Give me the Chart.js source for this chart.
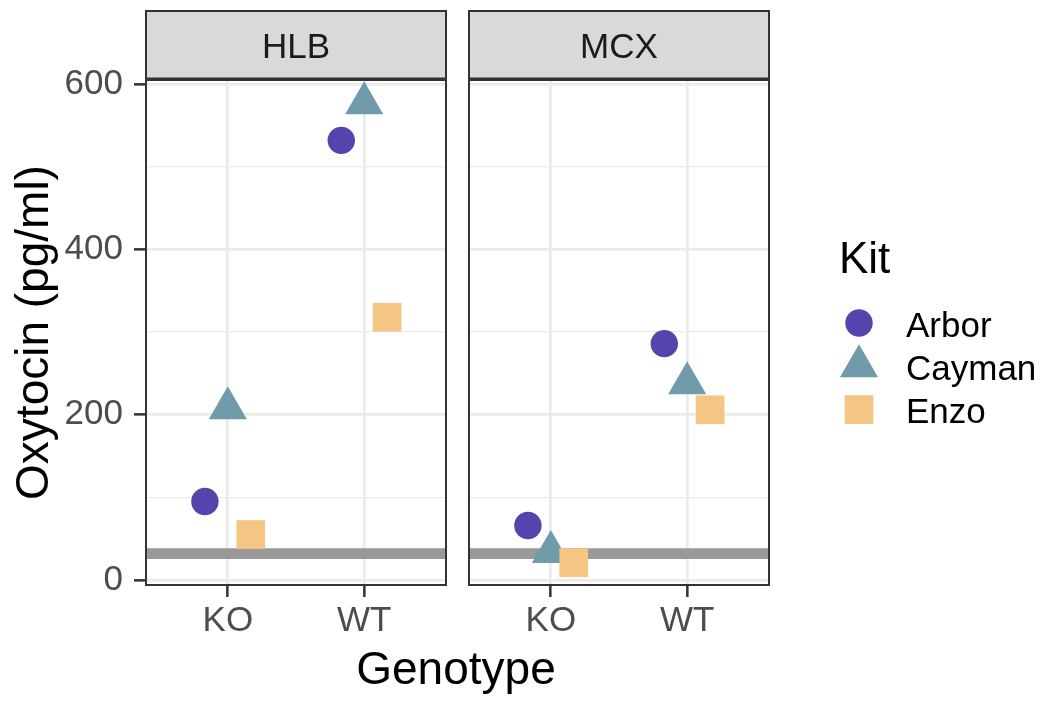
<!DOCTYPE html>
<html>
<head>
<meta charset="utf-8">
<script src="https://cdn.jsdelivr.net/npm/chart.js@4.4.1/dist/chart.umd.min.js"></script>
<style>
  body { margin: 0; background: #fff; }
  #wrap { position: relative; width: 1050px; height: 709px; overflow: hidden; background: #fff; }
  canvas { position: absolute; top: 0; }
  #hlb { left: 0; }
  #mcx { left: 446px; }
  #xtitle {
    position: absolute; left: 256px; width: 400px; top: 645px; height: 46px;
    text-align: center; font: 46px 'Liberation Sans', Arial, sans-serif; line-height: 46px; color: #000;
  }
</style>
</head>
<body>
<div id="wrap">
  <canvas id="hlb" width="460" height="709"></canvas>
  <canvas id="mcx" width="604" height="709"></canvas>
  <div id="xtitle">Genotype</div>
</div>
<script>
// données du graphique
const genotypes = ['KO', 'WT'];
const kits = ['Arbor', 'Cayman', 'Enzo'];

const hlbArbor = [95, 532];
const hlbCayman = [208, 577];
const hlbEnzo = [55, 318];

const mcxArbor = [66, 286];
const mcxCayman = [34, 238];
const mcxEnzo = [21, 206];

const cutoff = 32;
const yGrid = [0, 100, 200, 300, 400, 500, 600];
const yLabels = [0, 200, 400, 600];

// styles
const FONT = "'Liberation Sans', Arial, sans-serif";
const kitColors = ['#5444AE', '#6F9BAA', '#F4C583'];
const kitShapes = ['circle', 'triangle', 'rect'];
const kitRadius = [13.7, 22, 20.3];
const kitOrder = [3, 2, 1];
const dodge = 0.168;

Chart.defaults.font.family = FONT;

function fallbackPoint(ctx, style, r, x, y) {
  ctx.beginPath();
  if (style === 'circle') {
    ctx.arc(x, y, r, 0, Math.PI * 2);
  } else if (style === 'triangle') {
    ctx.moveTo(x, y - r);
    ctx.lineTo(x + r * Math.sin(2 * Math.PI / 3), y + r / 2);
    ctx.lineTo(x - r * Math.sin(2 * Math.PI / 3), y + r / 2);
    ctx.closePath();
  } else {
    const s = Math.SQRT1_2 * r;
    ctx.rect(x - s, y - s, 2 * s, 2 * s);
  }
  ctx.fill();
}

// bande grise + cadre + légende
const panelDecor = {
  id: 'panelDecor',
  afterDraw(chart, args, opts) {
    const ctx = chart.ctx;
    const a = chart.chartArea;
    const w = a.right - a.left;
    ctx.save();
    ctx.strokeStyle = '#333333';
    ctx.lineWidth = 2;
    ctx.strokeRect(a.left, a.top, w, a.bottom - a.top);

    ctx.fillStyle = '#D9D9D9';
    ctx.fillRect(a.left, 10, w, a.top - 10);
    ctx.strokeRect(a.left, 11, w, a.top - 11);
    ctx.fillStyle = '#333333';
    ctx.fillRect(a.left - 1, a.top - 2.5, w + 2, 3.5);
    ctx.fillStyle = '#1A1A1A';
    ctx.font = '35px ' + FONT;
    ctx.textAlign = 'center';
    ctx.textBaseline = 'alphabetic';
    ctx.fillText(opts.label, (a.left + a.right) / 2, 58);

    if (opts.legend) {
      const ox = opts.offsetX;
      ctx.fillStyle = '#000';
      ctx.textAlign = 'left';
      ctx.font = '44px ' + FONT;
      ctx.fillText('Kit', 839 - ox, 273);
      ctx.font = '35px ' + FONT;
      const rows = [323, 366.3, 409.6];
      const sets = chart.data.datasets.filter(d => kits.includes(d.label));
      kits.forEach((k, i) => {
        const ds = sets.find(d => d.label === k);
        ctx.fillStyle = ds.backgroundColor;
        if (Chart.helpers && Chart.helpers.drawPoint) {
          Chart.helpers.drawPoint(ctx, { pointStyle: ds.pointStyle, radius: ds.pointRadius, rotation: 0, borderWidth: 0 }, 859 - ox, rows[i]);
        } else {
          fallbackPoint(ctx, ds.pointStyle, ds.pointRadius, 859 - ox, rows[i]);
        }
        ctx.fillStyle = '#000';
        ctx.fillText(k, 906 - ox, rows[i] + 13.5);
      });
    }
    ctx.restore();
  }
};

function makePanel(id, label, series, first) {
  const datasets = kits.map((k, i) => ({
    label: k,
    data: series[i].map((v, g) => ({ x: g + 1 + (i - 1) * dodge, y: v })),
    pointStyle: kitShapes[i],
    pointRadius: kitRadius[i],
    pointHoverRadius: kitRadius[i],
    backgroundColor: kitColors[i],
    borderColor: kitColors[i],
    pointBorderWidth: 0,
    order: kitOrder[i],
    clip: false
  }));
  datasets.push({
    type: 'line',
    label: 'cutoff',
    data: [{ x: 0.4, y: cutoff }, { x: 2.6, y: cutoff }],
    borderColor: '#999999',
    borderWidth: 10.7,
    pointRadius: 0,
    order: 10
  });

  return new Chart(document.getElementById(id), {
    type: 'scatter',
    data: { datasets: datasets },
    plugins: [panelDecor],
    options: {
      responsive: false,
      animation: false,
      layout: {
        autoPadding: false,
        padding: { top: 80, right: first ? 14 : 281, left: 0, bottom: 0 }
      },
      plugins: {
        legend: { display: false },
        tooltip: { enabled: false },
        panelDecor: { label: label, legend: !first, offsetX: 446 }
      },
      scales: {
        x: {
          type: 'linear', min: 0.4, max: 2.6,
          afterBuildTicks: s => { s.ticks = genotypes.map((g, i) => ({ value: i + 1 })); },
          afterFit: s => { s.height = 124; },
          ticks: {
            callback: v => genotypes[Math.round(v) - 1],
            color: '#4D4D4D', font: { size: 35 }, padding: 3, maxRotation: 0, autoSkip: false
          },
          grid: { color: '#EBEBEB', lineWidth: 2.7, tickColor: '#333333', tickWidth: 2.5, tickLength: 12 },
          border: { display: false }
        },
        y: {
          type: 'linear', min: -6, max: 605,
          afterBuildTicks: s => { s.ticks = yGrid.map(v => ({ value: v })); },
          afterFit: s => { s.width = first ? 146 : 23; },
          ticks: {
            display: first,
            callback: v => yLabels.includes(v) ? String(v) : '',
            color: '#4D4D4D', font: { size: 35 }, padding: 11, autoSkip: false
          },
          grid: {
            color: '#EBEBEB',
            lineWidth: c => yLabels.includes(c.tick.value) ? 2.7 : 1.3,
            drawTicks: first,
            tickLength: 12,
            tickWidth: 2.5,
            tickColor: c => yLabels.includes(c.tick.value) ? '#333333' : 'rgba(0,0,0,0)'
          },
          border: { display: false },
          title: {
            display: first,
            text: 'Oxytocin (pg/ml)',
            color: '#000',
            font: { size: 46 },
            padding: { top: 8, bottom: 0 }
          }
        }
      }
    }
  });
}

makePanel('hlb', 'HLB', [hlbArbor, hlbCayman, hlbEnzo], true);
makePanel('mcx', 'MCX', [mcxArbor, mcxCayman, mcxEnzo], false);
</script>
</body>
</html>
